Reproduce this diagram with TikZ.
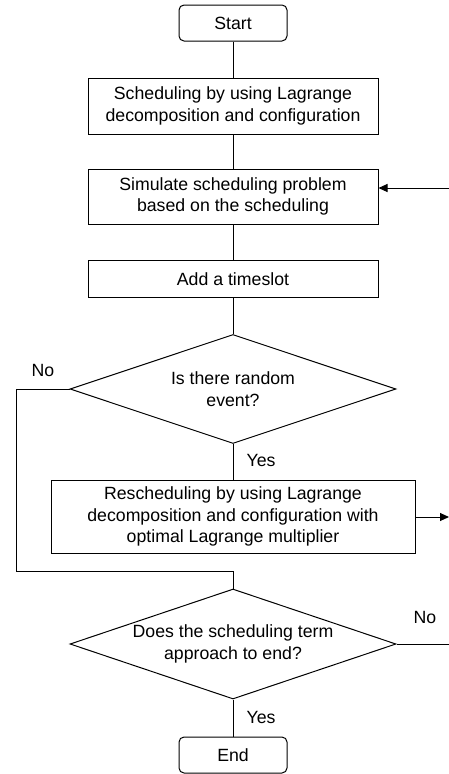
\documentclass[tikz,border=0pt]{standalone}
\usepackage{fontspec}
\setmainfont{Liberation Sans}
\usetikzlibrary{shapes.geometric,arrows.meta}
\begin{document}
\begin{tikzpicture}[x=1pt,y=-1pt,
  every node/.style={font=\fontsize{17.7}{21.5}\selectfont, align=center},
  proc/.style={draw, line width=1pt, inner sep=0pt},
  term/.style={proc, rounded corners=5pt, minimum width=108pt, minimum height=36pt},
  dec/.style={draw, line width=1pt, diamond, shape aspect=3, inner sep=0pt},
  conn/.style={line width=1pt},
  arr/.style={conn, -{Triangle[length=9pt,width=8pt]}},
  lab/.style={inner sep=0pt}]
\useasboundingbox (0,0) rectangle (449,774);
\node[term] (start) at (233,23) {Start};
\node[proc, minimum width=290pt, minimum height=56pt] (b1) at (233,106) {Scheduling by using Lagrange\\decomposition and configuration};
\node[proc, minimum width=290pt, minimum height=55pt] (b2) at (233,196.5) {Simulate scheduling problem\\based on the scheduling};
\node[proc, minimum width=290pt, minimum height=37pt] (b3) at (233,279) {Add a timeslot};
\node[dec, minimum width=326pt, minimum height=109pt] (d1) at (233,389) {Is there random\\event?};
\node[proc, minimum width=364pt, minimum height=73pt] (b4) at (233,516.5) {Rescheduling by using Lagrange\\decomposition and configuration with\\optimal Lagrange multiplier};
\node[dec, minimum width=326pt, minimum height=110pt] (d2) at (233,644) {Does the scheduling term\\approach to end?};
\node[term] (end) at (233,755) {End};
\coordinate (inR) at (449,188);
\coordinate (outR) at (449,517);
\coordinate (noR) at (449,644);
\coordinate (leftC) at (16,571);
\coordinate (merge) at (233,571);
\draw[conn] (start) -- (b1);
\draw[conn] (b1) -- (b2);
\draw[conn] (b2) -- (b3);
\draw[conn] (b3) -- (d1);
\draw[conn] (d1) -- (b4);
\draw[conn] (d1.west) -| (leftC) -- (merge) -- (d2.north);
\draw[arr] (inR) -- (inR -| b2.east);
\draw[arr] (outR -| b4.east) -- (outR);
\draw[conn] (d2.east) -- (noR);
\draw[conn] (d2) -- (end);
\node[lab] (no1) at (43,370) {No};
\node[lab] (yes1) at (261,460) {Yes};
\node[lab] (no2) at (425,617) {No};
\node[lab] (yes2) at (261,717) {Yes};
\end{tikzpicture}
\end{document}
